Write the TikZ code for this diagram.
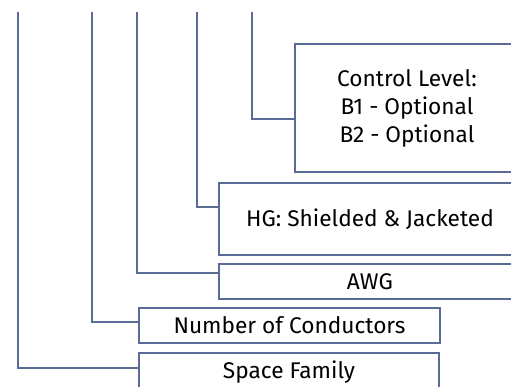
\documentclass[tikz,border=0pt]{standalone}
\usepackage{fontspec}
\setmainfont{Fira Sans}
\definecolor{linec}{RGB}{90,107,150}
\newdimen\pxu \pxu=0.75pt
\begin{document}
\begin{tikzpicture}[x=0.75pt,y=-0.75pt,
  conn/.style={draw=linec,line width=1.6pt},
  box/.style={draw=linec,line width=1.6pt,fill=white,inner sep=0pt,align=center,font=\fontsize{17}{21}\selectfont},
]
\useasboundingbox (0,0) rectangle (511,386);
\clip (0,0) rectangle (511,386);
% boxes
\node[box,minimum width=224\pxu,minimum height=128\pxu] (ctrl) at (407,108) {Control Level:\\B1 - Optional\\B2 - Optional};
\node[box,minimum width=302\pxu,minimum height=72\pxu] (hg) at (370,219) {HG: Shielded \& Jacketed};
\node[box,minimum width=302\pxu,minimum height=35\pxu] (awg) at (370,281.5) {AWG};
\node[box,minimum width=301\pxu,minimum height=35\pxu] (num) at (289.5,325.5) {Number of Conductors};
\node[box,minimum width=300\pxu,minimum height=38\pxu] (sf) at (289,372) {Space Family};
% top ends
\coordinate (t1) at (18,12);
\coordinate (t2) at (92,12);
\coordinate (t3) at (137,12);
\coordinate (t4) at (197,12);
\coordinate (t5) at (252,12);
\draw[conn] (t5) |- ([yshift=-8.25pt]ctrl.west);
\draw[conn] (t4) |- ([yshift=9pt]hg.west);
\draw[conn] (t3) |- ([yshift=6.4pt]awg.west);
\draw[conn] (t2) |- ([yshift=2.6pt]num.west);
\draw[conn] (t1) |- ([yshift=3pt]sf.west);
\end{tikzpicture}
\end{document}
